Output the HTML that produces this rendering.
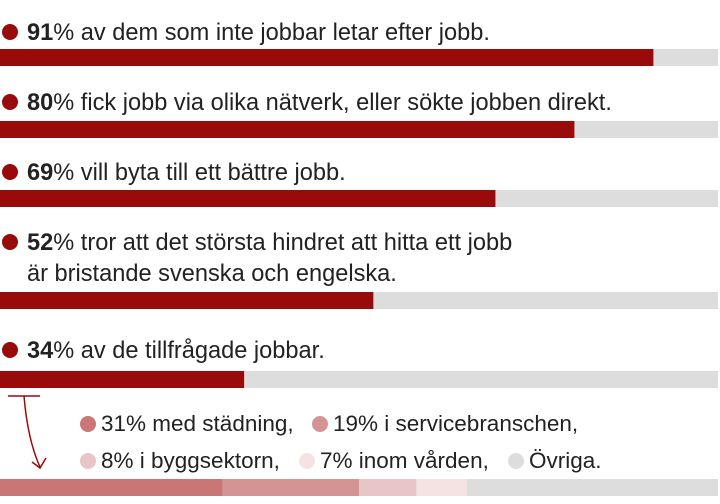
<!DOCTYPE html>
<html><head><meta charset="utf-8"><style>
body{margin:0;background:#fff;}
svg{display:block;font-family:"Liberation Sans",sans-serif;}
</style></head><body>
<svg id="c" width="720" height="504"></svg>
<script>
const labels1=["% av dem som inte jobbar letar efter jobb.","% fick jobb via olika nätverk, eller sökte jobben direkt.","% vill byta till ett bättre jobb.","% tror att det största hindret att hitta ett jobb","% av de tillfrågade jobbar."];
const values=[91,80,69,52,34];
const textY=[40,110,180,250,358];
const barY=[49,121,190,292,371];
const segValues=[31,19,8,7,35];
const segLabels=["31% med städning,","19% i servicebranschen,","8% i byggsektorn,","7% inom vården,","Övriga."];
const segColors=["#c87676","#d49494","#e8c5c6","#f5e3e3","#dddddd"];
const NS="http://www.w3.org/2000/svg";
const svg=document.getElementById('c');
function el(t,a,p){const e=document.createElementNS(NS,t);for(const k in a)e.setAttribute(k,a[k]);(p||svg).appendChild(e);return e;}
const W=718;
const x=v=>v/100*W;
values.forEach((v,i)=>{
  const c=el('circle',{cx:10,cy:textY[i]-8,r:8,fill:'#990a0a'});
  
  
  const t=el('text',{x:27,y:textY[i],'font-size':23.6,fill:'#222'});
  
  
  const b=el('tspan',{'font-weight':'bold'},t);b.textContent=v;
  const r=el('tspan',{},t);r.textContent=labels1[i];
  if(i===3){const t2=el('text',{x:27,y:textY[i]+31,'font-size':23.6,fill:'#222'});t2.textContent="är bristande svenska och engelska.";
    
    }
  const bg=el('rect',{x:0,y:barY[i],width:W,height:17,fill:'#dddddd'});
  
  
  const f=el('rect',{x:0,y:barY[i],width:x(v),height:17,fill:'#990a0a'});
  
  
});
const ar=el('path',{d:'M8 396 H40 M24 396 C26 420 30 445 40 467 M32 462 L40 468 L46 458',stroke:'#990a0a','stroke-width':1.5,fill:'none'});


let acc=0;
segValues.forEach((v,i)=>{
  const w=i===segValues.length-1?W-x(acc):x(v);
  const r=el('rect',{x:x(acc),y:479,width:w,height:17,fill:segColors[i]});
  
  
  acc+=v;
});
const legPos=[[88,431],[320,431],[88,468],[307,468],[516,468]];
segLabels.forEach((s,i)=>{
  const [lx,ly]=legPos[i];
  const c=el('circle',{cx:lx,cy:ly-7,r:8,fill:segColors[i]});
  
  
  const t=el('text',{x:lx+13,y:ly,'font-size':22.5,fill:'#222'});
  t.textContent=s;
  
  
});
</script>
</body></html>
